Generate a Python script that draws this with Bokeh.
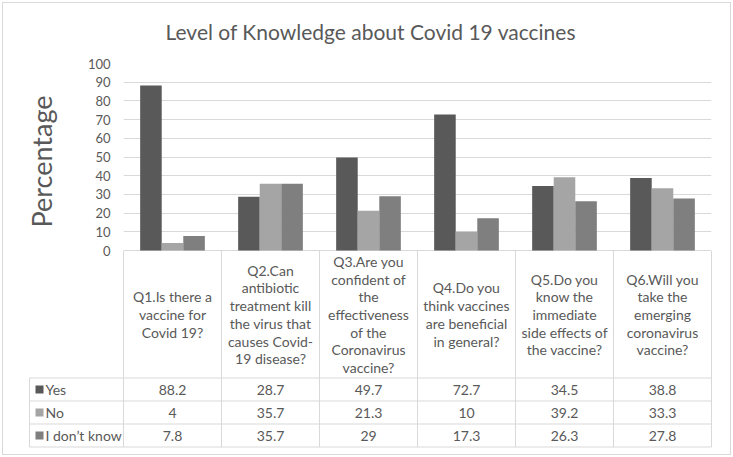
from bokeh.plotting import figure
from bokeh.layouts import column
from bokeh.models import FactorRange, Range1d, FixedTicker, ColumnDataSource
from bokeh.transform import dodge
from bokeh.embed import file_html
from bokeh.resources import INLINE

# ---------------- data ----------------
questions = [
    "Q1.Is there a\nvaccine for\nCovid 19?",
    "Q2.Can\nantibiotic\ntreatment kill\nthe virus that\ncauses Covid-\n19 disease?",
    "Q3.Are you\nconfident of\nthe\neffectiveness\nof the\nCoronavirus\nvaccine?",
    "Q4.Do you\nthink vaccines\nare beneficial\nin general?",
    "Q5.Do you\nknow the\nimmediate\nside effects of\nthe vaccine?",
    "Q6.Will you\ntake the\nemerging\ncoronavirus\nvaccine?",
]
series = ["Yes", "No", "I don\u2019t know"]
yes = [88.2, 28.7, 49.7, 72.7, 34.5, 38.8]
no = [4, 35.7, 21.3, 10, 39.2, 33.3]
dont_know = [7.8, 35.7, 29, 17.3, 26.3, 27.8]
y_ticks = [0, 10, 20, 30, 40, 50, 60, 70, 80, 90, 100]
title_text = "Level of Knowledge about  Covid 19 vaccines"
y_label = "Percentage"

# ---------------- style ----------------
colors = ["#595959", "#a5a5a5", "#7f7f7f"]
TXT = "#595959"
GRID = "#d9d9d9"
FONT = "Lato"
BAR_W = 0.22
PX_PER_UNIT = 1.88          # vertical pixels per percentage point
EXTRA_BELOW = 9             # pixels of chart figure below the zero line

values = [yes, no, dont_know]
src = ColumnDataSource(dict(q=questions, yes=yes, no=no, dk=dont_know))

# ---------------- chart ----------------
ymin = -EXTRA_BELOW / PX_PER_UNIT
p = figure(width=733, height=250 + EXTRA_BELOW, x_range=FactorRange(factors=questions),
           y_range=Range1d(ymin, 100), output_backend="svg", toolbar_location=None,
           x_axis_location=None, min_border_left=123, min_border_right=22,
           min_border_top=62, min_border_bottom=0)
p.outline_line_color = None
p.background_fill_color = None
p.border_fill_color = None
for g in p.xgrid:
    g.visible = False
p.ygrid.grid_line_color = GRID
p.ygrid.ticker = FixedTicker(ticks=y_ticks)

for k, (col, off) in enumerate(zip(["yes", "no", "dk"], [-BAR_W, 0, BAR_W])):
    p.vbar(x=dodge("q", off, range=p.x_range), top=col, width=BAR_W, bottom=0,
           source=src, fill_color=colors[k], line_color=None)

ax = p.yaxis[0]
ax.ticker = FixedTicker(ticks=y_ticks)
ax.axis_line_color = None
ax.major_tick_line_color = None
ax.minor_tick_line_color = None
ax.major_tick_out = 0
ax.major_tick_in = 0
ax.major_label_standoff = 13
ax.major_label_text_font = FONT
ax.major_label_text_font_size = "13px"
ax.major_label_text_color = TXT
ax.axis_label = y_label
ax.axis_label_text_font = FONT
ax.axis_label_text_font_size = "27px"
ax.axis_label_text_font_style = "normal"
ax.axis_label_text_color = TXT
ax.axis_label_standoff = 27

p.title.text = title_text
p.title.text_font = FONT
p.title.text_font_size = "21px"
p.title.text_font_style = "normal"
p.title.text_color = TXT
p.title.align = "left"
p.title.offset = 42
p.title.standoff = 36
p.title.vertical_align = "top"

# ---------------- data table ----------------
PX = 98.0           # pixels per category column
ROW_H = 23
HEADER_H = 127
TOP = 3 * ROW_H + HEADER_H
LEG = -94 / PX

t = figure(width=733, height=207, x_range=Range1d(-96 / PX, 590 / PX),
           y_range=Range1d(-1.5, TOP + 0.5), output_backend="svg",
           toolbar_location=None, x_axis_location=None, y_axis_location=None,
           min_border_left=27, min_border_right=20, min_border_top=0,
           min_border_bottom=9, margin=(-EXTRA_BELOW, 0, 0, 0))
t.outline_line_color = None
t.background_fill_color = None
t.border_fill_color = None
t.xgrid.visible = False
t.ygrid.visible = False

n = len(questions)
x0, y0, x1, y1 = [], [], [], []
for i in range(n + 1):
    x0.append(i); x1.append(i); y0.append(0); y1.append(TOP)
x0.append(LEG); x1.append(LEG); y0.append(0); y1.append(3 * ROW_H)
for r in range(4):
    x0.append(LEG); x1.append(n); y0.append(r * ROW_H); y1.append(r * ROW_H)
t.segment(x0=x0, y0=y0, x1=x1, y1=y1, line_color=GRID, line_width=1)

centers = [i + 0.5 for i in range(n)]
t.text(x=centers, y=[3 * ROW_H + HEADER_H / 2] * n, text=questions,
       text_align="center", text_baseline="middle", text_font={"value": FONT},
       text_font_size="14px", text_color=TXT, text_line_height=1.04)

for k, vals in enumerate(values):
    yc = (2 - k + 0.5) * ROW_H
    t.text(x=centers, y=[yc] * n, text=[f"{v:g}" for v in vals],
           text_align="center", text_baseline="middle", text_font={"value": FONT},
           text_font_size="14px", text_color=TXT)

row_y = [(2 - k + 0.5) * ROW_H for k in range(3)]
t.scatter(x=[LEG + 10 / PX] * 3, y=row_y, marker="square", size=8,
          fill_color=colors, line_color=None)
t.text(x=[LEG + 16 / PX] * 3, y=row_y, text=series, text_align="left",
       text_baseline="middle", text_font={"value": FONT}, text_font_size="14px",
       text_color=TXT)

layout = column(column(p), column(t),
                styles={"outline": "1px solid #d9d9d9", "outline-offset": "-3px"})

open("out.html", "w").write(file_html(layout, INLINE))
